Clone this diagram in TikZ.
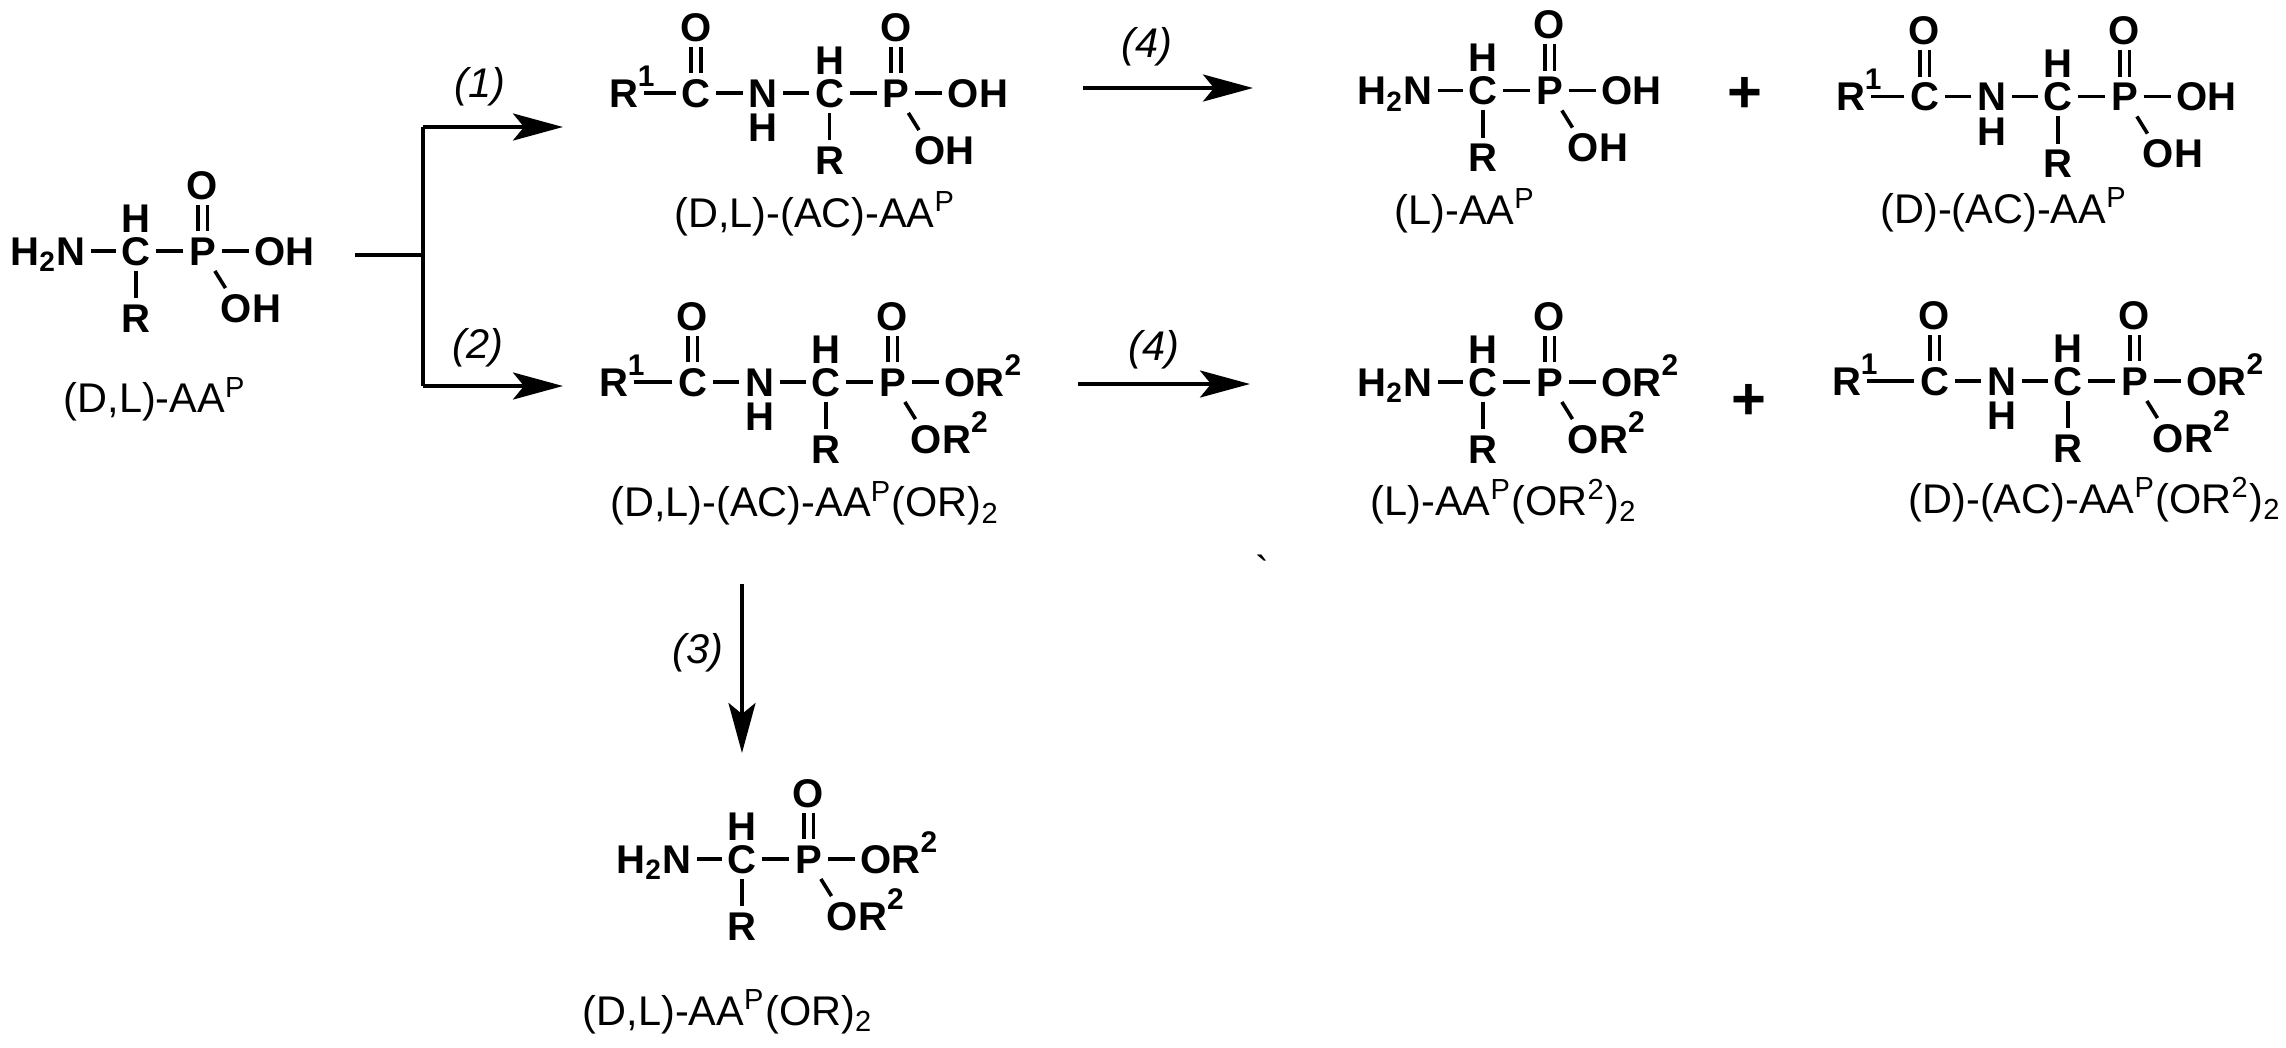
\documentclass[tikz,border=0pt]{standalone}
\usepackage{fontspec}
\setmainfont{Liberation Sans}
\usetikzlibrary{arrows.meta}
\usetikzlibrary{positioning}

% small raised digit that takes no width in the atom node
\newcommand{\atomsup}[1]{\rlap{\raisebox{6pt}{\fontsize{8.5}{9}\selectfont #1}}}
% C(H)(R)-P(=O)(X)(X) part, #1 prefix, #2 position of C, #3 the group on P
\newcommand{\phostail}[3]{
  \node[atom] (#1c) at (#2) {C};
  \node[atom] (#1h) [node distance=.33cm,above of=#1c] {H};
  \node[atom] (#1r) [node distance=.67cm,below of=#1c] {R};
  \node[atom] (#1p) [node distance=.665cm,right of=#1c] {P};
  \node[atom] (#1o) [node distance=.66cm,above of=#1p] {O};
  \node[atom] (#1x) [node distance=.82cm,right of=#1p] {#3};
  \node[atom] (#1y) [node distance=.57cm,below of=#1p,xshift=.485cm] {#3};
  \draw[bond] (#1c) -- (#1p);
  \draw[bond] (#1c) -- (#1r);
  \draw[bond] (#1p) -- (#1x);
  \draw[bond] (#1p) -- (#1y.142);
  \draw[dbond] (#1p) -- (#1o);
}
% H2N on the left of C
\newcommand{\aminehead}[1]{
  \node[atom] (#1n) [node distance=.88cm,left of=#1c] {H\textsubscript{2}N};
  \draw[bond] (#1n) -- (#1c);
}
% R1-C(=O)-NH on the left of C, #2 length of the R1 bond
\newcommand{\acylhead}[2]{
  \node[atom] (#1m) [node distance=.665cm,left of=#1c] {N};
  \node[atom] (#1i) [node distance=.345cm,below of=#1m] {H};
  \node[atom] (#1a) [node distance=.67cm,left of=#1m] {C};
  \node[atom] (#1e) [node distance=.66cm,above of=#1a] {O};
  \node[atom] (#1s) [node distance=#2,left of=#1a] {R\atomsup{1}};
  \draw[bond] (#1c) -- (#1m);
  \draw[bond] (#1m) -- (#1a);
  \draw[bond] (#1a) -- (#1s);
  \draw[dbond] (#1a) -- (#1e);
}

\begin{document}
\begin{tikzpicture}[atom/.style={font=\fontsize{11.4}{13}\selectfont\bfseries,inner sep=.05cm,
                        text height=8.1pt,text depth=0pt},
                    molname/.style={font=\fontsize{11.8}{14}\selectfont,anchor=base,inner sep=0pt},
                    step label/.style={font=\fontsize{11.8}{14}\selectfont\itshape,inner sep=0pt},
                    plus sign/.style={font=\fontsize{17}{20}\selectfont\bfseries,inner sep=0pt},
                    bond/.style={line width=.036cm},
                    dbond/.style={line width=.036cm,double,double distance=.06cm},
                    rxn/.style={line width=.04cm,-{Stealth[length=.5cm,width=.27cm,inset=.11cm]}},
                    branch/.style={line width=.04cm}]
  \useasboundingbox (0,0) rectangle (22.86,-10.47);

  \phostail{a}{1.36,-2.51}{OH}
  \aminehead{a}
  \phostail{b}{8.295,-.93}{OH}
  \acylhead{b}{.725cm}
  \phostail{c}{14.83,-.905}{OH}
  \aminehead{c}
  \phostail{d}{20.58,-.965}{OH}
  \acylhead{d}{.74cm}
  \phostail{e}{8.26,-3.82}{OR\atomsup{2}}
  \acylhead{e}{.79cm}
  \phostail{f}{14.83,-3.82}{OR\atomsup{2}}
  \aminehead{f}
  \phostail{g}{20.68,-3.81}{OR\atomsup{2}}
  \acylhead{g}{.88cm}
  \phostail{h}{7.42,-8.59}{OR\atomsup{2}}
  \aminehead{h}

  \node[molname] (nameA) at (1.55,-4.127) {(D,L)-AA\textsuperscript{P}};
  \node[molname] (nameB) at (8.15,-2.27) {(D,L)-(AC)-AA\textsuperscript{P}};
  \node[molname] (nameC) at (14.65,-2.24) {(L)-AA\textsuperscript{P}};
  \node[molname] (nameD) at (20.04,-2.23) {(D)-(AC)-AA\textsuperscript{P}};
  \node[molname] (nameE) at (8.05,-5.167) {(D,L)-(AC)-AA\textsuperscript{P}(OR)\textsubscript{2}};
  \node[molname] (nameF) at (15.04,-5.15) {(L)-AA\textsuperscript{P}(OR\textsuperscript{2})\textsubscript{2}};
  \node[molname] (nameG) at (20.95,-5.13) {(D)-(AC)-AA\textsuperscript{P}(OR\textsuperscript{2})\textsubscript{2}};
  \node[molname] (nameH) at (7.28,-10.25) {(D,L)-AA\textsuperscript{P}(OR)\textsubscript{2}};

  \node[plus sign] (plus1) at (17.45,-.95) {+};
  \node[plus sign] (plus2) at (17.485,-4.02) {+};
  \node[molname] (tick) at (12.62,-5.85) {\textasciigrave};

  \node[step label] (step1) at (4.8,-.87) {(1)};
  \node[step label] (step2) at (4.78,-3.48) {(2)};
  \node[step label] (step3) at (6.98,-6.53) {(3)};
  \node[step label] (step4a) at (11.47,-.47) {(4)};
  \node[step label] (step4b) at (11.54,-3.5) {(4)};

  \coordinate (start) at (3.55,-2.55);
  \coordinate (fork) at (4.23,-2.55);
  \coordinate (forkup) at (4.23,-1.27);
  \coordinate (forkdown) at (4.23,-3.86);
  \coordinate (end1) at (5.63,-1.27);
  \coordinate (end2) at (5.63,-3.86);
  \coordinate (from3) at (7.42,-5.84);
  \coordinate (end3) at (7.42,-7.53);
  \coordinate (from4a) at (10.83,-.88);
  \coordinate (end4a) at (12.53,-.88);
  \coordinate (from4b) at (10.78,-3.84);
  \coordinate (end4b) at (12.5,-3.84);

  \draw[branch] (start) -- (fork);
  \draw[branch] (forkup) -- (forkdown);
  \draw[rxn] (forkup) -- (end1);
  \draw[rxn] (forkdown) -- (end2);
  \draw[rxn] (from3) -- (end3);
  \draw[rxn] (from4a) -- (end4a);
  \draw[rxn] (from4b) -- (end4b);
\end{tikzpicture}
\end{document}
